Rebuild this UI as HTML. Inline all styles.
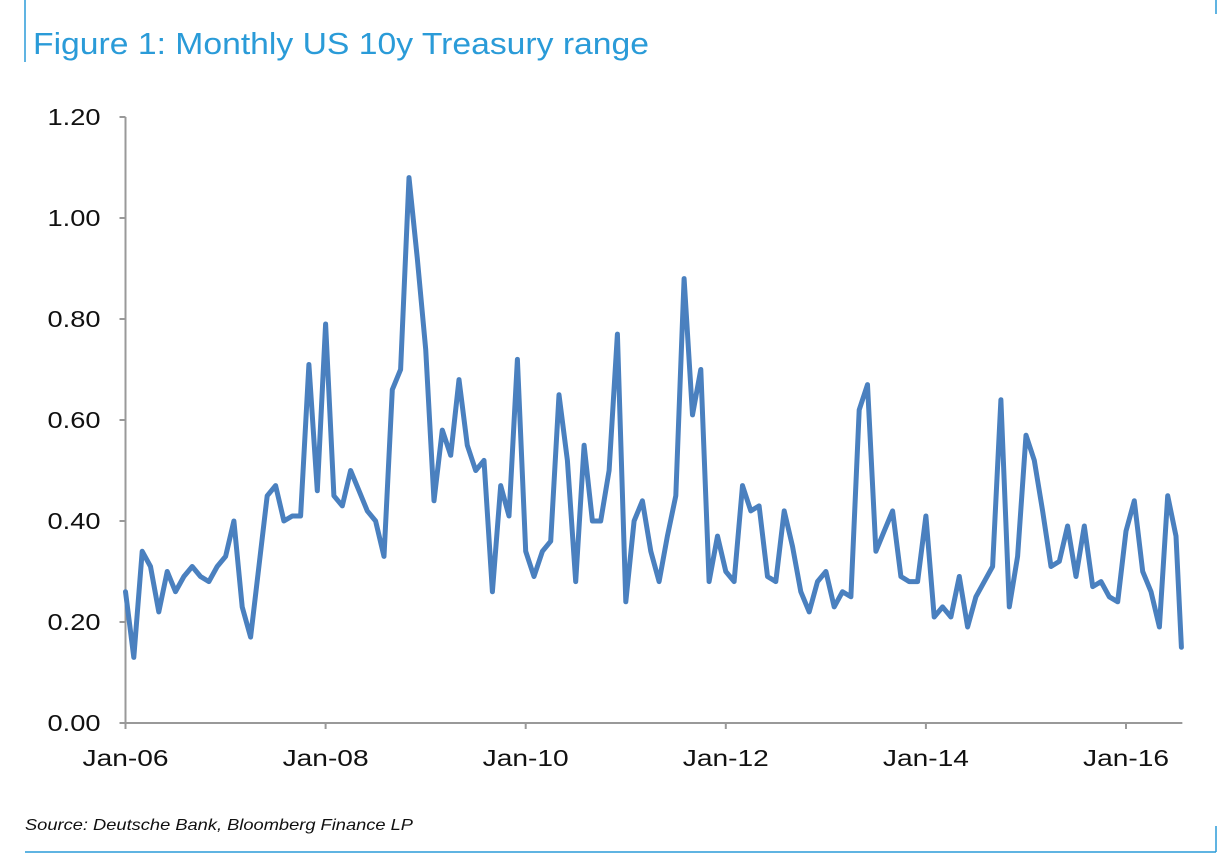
<!DOCTYPE html>
<html><head><meta charset="utf-8"><style>
html,body{margin:0;padding:0;background:#fff;}
body{width:1228px;height:868px;overflow:hidden;position:relative;font-family:"Liberation Sans",sans-serif;}
</style></head><body>
<svg width="1228" height="868" style="position:absolute;left:0;top:0">
<line x1="25" y1="0" x2="25" y2="62" stroke="#2a9bd8" stroke-width="1.5"/>
<line x1="1216" y1="0" x2="1216" y2="14" stroke="#2a9bd8" stroke-width="1.5"/>
<line x1="25" y1="852" x2="1216" y2="852" stroke="#2a9bd8" stroke-width="1.5"/>
<line x1="1216" y1="826" x2="1216" y2="852" stroke="#2a9bd8" stroke-width="1.5"/>
<text x="33" y="54" font-size="31" fill="#2a9bd8" textLength="616" lengthAdjust="spacingAndGlyphs">Figure 1: Monthly US 10y Treasury range</text>
<text x="25" y="830" font-size="16" font-style="italic" fill="#111" textLength="388" lengthAdjust="spacingAndGlyphs">Source: Deutsche Bank, Bloomberg Finance LP</text>
<g id="axes"></g>
<g id="plot"></g>
</svg>
<script>
const yTicks=[0,0.2,0.4,0.6,0.8,1.0,1.2];
const yTickLabels=["0.00","0.20","0.40","0.60","0.80","1.00","1.20"];
const xTickMonths=[0,24,48,72,96,120];
const xTickLabels=["Jan-06","Jan-08","Jan-10","Jan-12","Jan-14","Jan-16"];
const values=[
0.26,0.13,0.34,0.31,0.22,0.30,0.26,0.29,0.31,0.29,0.28,0.31,
0.33,0.40,0.23,0.17,0.31,0.45,0.47,0.40,0.41,0.41,0.71,0.46,
0.79,0.45,0.43,0.50,0.46,0.42,0.40,0.33,0.66,0.70,1.08,0.92,
0.74,0.44,0.58,0.53,0.68,0.55,0.50,0.52,0.26,0.47,0.41,0.72,
0.34,0.29,0.34,0.36,0.65,0.52,0.28,0.55,0.40,0.40,0.50,0.77,
0.24,0.40,0.44,0.34,0.28,0.37,0.45,0.88,0.61,0.70,0.28,0.37,
0.30,0.28,0.47,0.42,0.43,0.29,0.28,0.42,0.35,0.26,0.22,0.28,
0.30,0.23,0.26,0.25,0.62,0.67,0.34,0.38,0.42,0.29,0.28,0.28,
0.41,0.21,0.23,0.21,0.29,0.19,0.25,0.28,0.31,0.64,0.23,0.33,
0.57,0.52,0.42,0.31,0.32,0.39,0.29,0.39,0.27,0.28,0.25,0.24,
0.38,0.44,0.30,0.26,0.19,0.45,0.37,0.15];
const X0=125.5,PX=1000.5/120,Y0=723,PY=505;
const xs=m=>X0+m*PX, ys=v=>Y0-v*PY;
const NS="http://www.w3.org/2000/svg";
const axes=document.getElementById('axes'),plot=document.getElementById('plot');
function mk(t,a,p){const e=document.createElementNS(NS,t);for(const k in a)e.setAttribute(k,a[k]);p.appendChild(e);return e;}
const lastM=values.length-1;
let ya=mk('line',{x1:X0,y1:ys(1.2),x2:X0,y2:Y0,stroke:'#999','stroke-width':2},axes);


let xa=mk('line',{x1:X0,y1:Y0,x2:xs(lastM)-2,y2:Y0,stroke:'#999','stroke-width':2},axes);


yTicks.forEach((v,i)=>{
 const t=mk('line',{x1:X0-6,y1:ys(v),x2:X0,y2:ys(v),stroke:'#999','stroke-width':2},axes);
 
 
 const l=mk('text',{x:X0-25,y:ys(v)+8,'font-size':23,'text-anchor':'end',fill:'#111',textLength:53,lengthAdjust:'spacingAndGlyphs'},axes);
 l.textContent=yTickLabels[i];
 
 
});
xTickMonths.forEach((m,i)=>{
 const t=mk('line',{x1:xs(m),y1:Y0,x2:xs(m),y2:Y0+6,stroke:'#999','stroke-width':2},axes);
 
 
 const l=mk('text',{x:xs(m),y:Y0+43,'font-size':23,'text-anchor':'middle',fill:'#111',textLength:86,lengthAdjust:'spacingAndGlyphs'},axes);
 l.textContent=xTickLabels[i];
 
 
});
const d=values.map((v,i)=>(i?'L':'M')+(i===lastM?xs(i)-3:xs(i)).toFixed(1)+','+ys(v).toFixed(1)).join(' ');
const p=mk('path',{d:d,fill:'none',stroke:'#4a80bf','stroke-width':5,'stroke-linejoin':'round','stroke-linecap':'round'},plot);


</script>
</body></html>
